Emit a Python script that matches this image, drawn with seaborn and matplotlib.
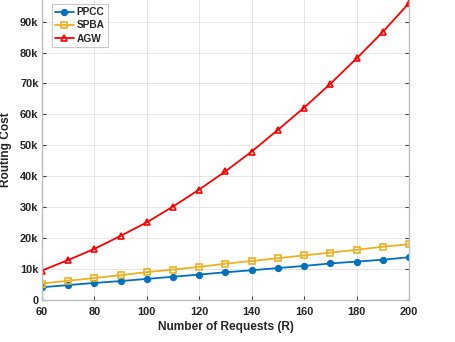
import numpy as np
import pandas as pd
import matplotlib
matplotlib.use("Agg")
import matplotlib.pyplot as plt
from matplotlib.ticker import FuncFormatter
import seaborn as sns

requests = [60, 70, 80, 90, 100, 110, 120, 130, 140, 150, 160, 170, 180, 190, 200]
ppcc = [4100, 4800, 5500, 6100, 6800, 7500, 8200, 8950, 9600, 10300, 11000, 11800, 12400, 13000, 13800]
spba = [5300, 6200, 7100, 8000, 9000, 9800, 10700, 11700, 12600, 13500, 14400, 15300, 16200, 17200, 18000]
agw = [9500, 12900, 16500, 20700, 25100, 30200, 35700, 41600, 48000, 55000, 62200, 69900, 78100, 86700, 96000]

df = pd.DataFrame({
    "R": requests * 3,
    "cost": ppcc + spba + agw,
    "method": ["PPCC"] * 15 + ["SPBA"] * 15 + ["AGW"] * 15,
})

sns.set_style("whitegrid")
plt.rcParams["font.family"] = ["Liberation Sans", "DejaVu Sans"]
plt.rcParams["font.weight"] = "bold"

fig = plt.figure(figsize=(4.55, 3.42), dpi=100)
ax = fig.add_axes([0.092, 0.123, 0.807, 0.877])

palette = {"PPCC": "#0072BD", "SPBA": "#EDB120", "AGW": "#FF0000"}
markers = {"PPCC": "o", "SPBA": "s", "AGW": "^"}
sns.lineplot(data=df, x="R", y="cost", hue="method", style="method",
             palette=palette, markers=markers, dashes=False, ax=ax,
             linewidth=1.3, markersize=5, legend=False)

# marker faces: filled dots for PPCC, open for others
for line, name in zip(ax.lines, ["PPCC", "SPBA", "AGW"]):
    if name == "PPCC":
        line.set_markerfacecolor(palette[name])
        line.set_markersize(4.5)
    else:
        line.set_markerfacecolor("none")
        line.set_markeredgewidth(1.2)
    line.set_markeredgecolor(palette[name])
    line.set_label(name)

ax.set_xlim(60, 200)
ax.set_ylim(0, 97000)
ax.set_xticks(range(60, 201, 20))
ax.set_yticks(range(0, 90001, 10000))
ax.yaxis.set_major_formatter(FuncFormatter(lambda v, p: "0" if v == 0 else f"{int(v/1000)}k"))

ax.grid(True, color="#e6e6e6", linewidth=0.7)
for s in ax.spines.values():
    s.set_visible(True)
    s.set_color("#bdbdbd")
    s.set_linewidth(1.0)
ax.spines["top"].set_visible(False)

ax.tick_params(axis="both", direction="in", length=3, color="#444444",
               labelsize=7.9, labelcolor="#262626", right=True, left=True, bottom=True)
ax.tick_params(axis="y", pad=2.5)
ax.tick_params(axis="x", pad=5)
ax.set_xlabel("Number of Requests (R)", fontsize=8.6, fontweight="bold", color="#262626")
ax.set_ylabel("Routing Cost", fontsize=8.6, fontweight="bold", color="#262626")
ax.xaxis.set_label_coords(0.5, -0.07)
ax.yaxis.set_label_coords(-0.08, 0.5)

leg = ax.legend(loc="upper left", bbox_to_anchor=(0.027, 0.987), borderaxespad=0,
                fontsize=7.3, frameon=True, fancybox=False, edgecolor="#bdbdbd",
                handlelength=1.8, borderpad=0.35, labelspacing=0.3, handletextpad=0.3)
leg.get_frame().set_linewidth(0.8)
for t in leg.get_texts():
    t.set_fontweight("bold")
    t.set_color("#262626")

fig.savefig("out.png", dpi=100)
